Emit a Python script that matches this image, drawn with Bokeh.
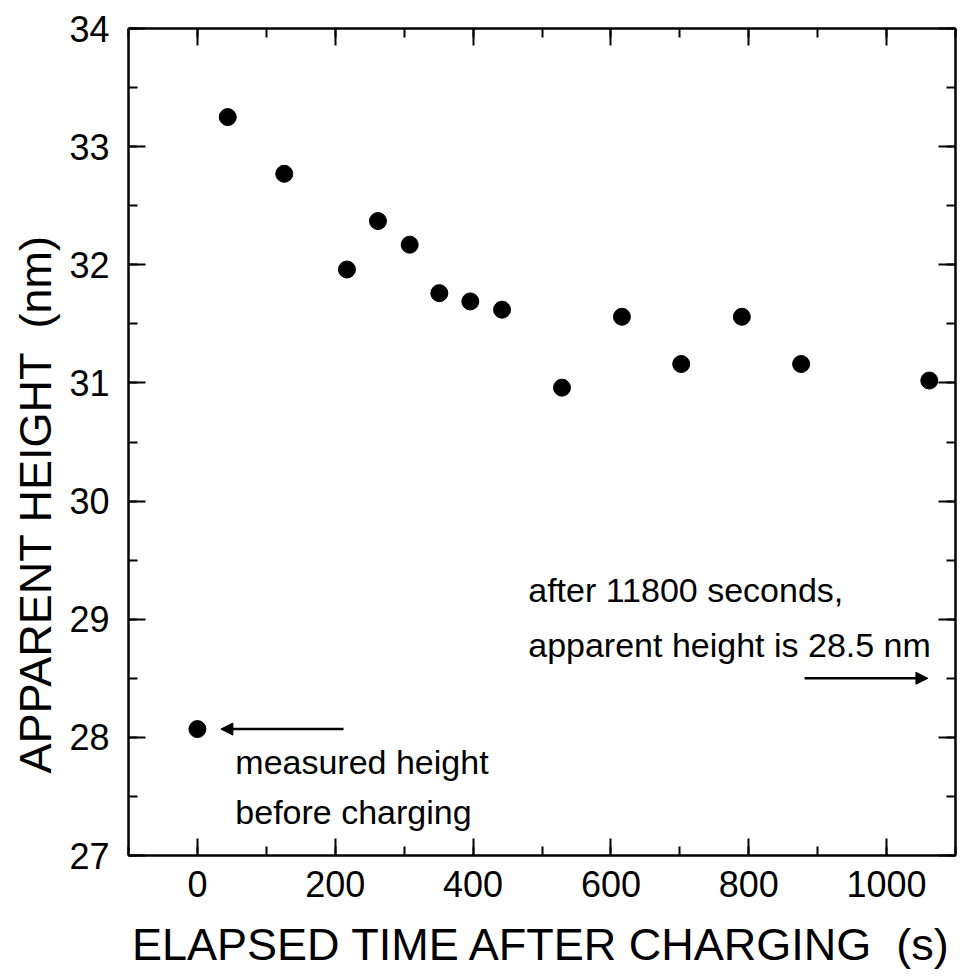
from bokeh.plotting import figure
from bokeh.models import (LinearAxis, SingleIntervalTicker, Range1d, Arrow, NormalHead,
                          Label, Title, CustomJSTickFormatter)
from bokeh.embed import file_html
from bokeh.resources import INLINE

# ---- data ----
elapsed_time = [0, 44, 126, 217, 262, 308, 351, 396, 442, 529, 616, 702, 790, 876, 1062]
apparent_height = [28.07, 33.25, 32.77, 31.96, 32.37, 32.17, 31.76, 31.69, 31.62,
                   30.96, 31.56, 31.16, 31.56, 31.16, 31.02]
x_ticks = [0, 200, 400, 600, 800, 1000]
y_ticks = [27, 28, 29, 30, 31, 32, 33, 34]

FONT = "Liberation Sans"

p = figure(frame_width=827, frame_height=827,
           x_range=Range1d(-100, 1100), y_range=Range1d(27, 34),
           output_backend="svg", toolbar_location=None,
           min_border_left=128, min_border_right=8, min_border_top=28, min_border_bottom=117)
p.xgrid.visible = False
p.ygrid.visible = False
p.outline_line_color = None
p.background_fill_color = "white"

def style_axis(ax, ticker, labels=True):
    ax.ticker = ticker
    ax.axis_line_width = 2.5
    ax.axis_line_color = "black"
    ax.major_tick_in = 17
    ax.major_tick_out = 0
    ax.minor_tick_in = 9
    ax.minor_tick_out = 0
    ax.major_tick_line_width = 2
    ax.minor_tick_line_width = 2
    ax.major_tick_line_color = "black"
    ax.minor_tick_line_color = "black"
    ax.major_label_text_font = FONT
    ax.major_label_text_font_size = "36px"
    ax.major_label_text_color = "black"
    if not labels:
        ax.formatter = CustomJSTickFormatter(code="return ''")
        ax.major_label_text_font_size = "0px"
        ax.major_label_standoff = 0

xa = p.xaxis[0]
style_axis(xa, SingleIntervalTicker(interval=200, num_minor_ticks=2))
xa.major_label_standoff = 15
xa.axis_label = "ELAPSED TIME AFTER CHARGING \u00a0(s)"
xa.axis_label_text_font = FONT
xa.axis_label_text_font_size = "45px"
xa.axis_label_text_font_style = "normal"
xa.axis_label_text_color = "black"
xa.axis_label_standoff = 19

ya = p.yaxis[0]
style_axis(ya, SingleIntervalTicker(interval=1, num_minor_ticks=2))
ya.major_label_standoff = 19

top = LinearAxis()
style_axis(top, SingleIntervalTicker(interval=200, num_minor_ticks=2), labels=False)
p.add_layout(top, "above")
right = LinearAxis()
style_axis(right, SingleIntervalTicker(interval=1, num_minor_ticks=2), labels=False)
p.add_layout(right, "right")

# y axis title (offset downward as in the reference)
p.add_layout(Title(text="APPARENT HEIGHT \u00a0(nm)", align="left", offset=82,
                   text_font=FONT, text_font_size="45px", text_font_style="normal",
                   text_color="black", standoff=12), "left")

p.scatter(elapsed_time, apparent_height, size=17, color="black", marker="circle")

# annotations
p.add_layout(Arrow(x_start=212, y_start=apparent_height[0], x_end=34, y_end=apparent_height[0],
                   line_width=2.5, line_color="black",
                   end=NormalHead(size=12, fill_color="black", line_color="black")))
p.add_layout(Arrow(x_start=881, y_start=28.5, x_end=1060, y_end=28.5,
                   line_width=2.5, line_color="black",
                   end=NormalHead(size=12, fill_color="black", line_color="black")))

for txt, x, y in [("measured height", 55, 27.79), ("before charging", 55, 27.37),
                  ("after 11800 seconds,", 480, 29.25),
                  ("apparent height is 28.5 nm", 480, 28.78)]:
    p.add_layout(Label(x=x, y=y, text=txt, text_font=FONT, text_font_size="34px",
                       text_color="black", text_baseline="alphabetic", text_align="left"))

open("out.html", "w").write(file_html(p, INLINE))
